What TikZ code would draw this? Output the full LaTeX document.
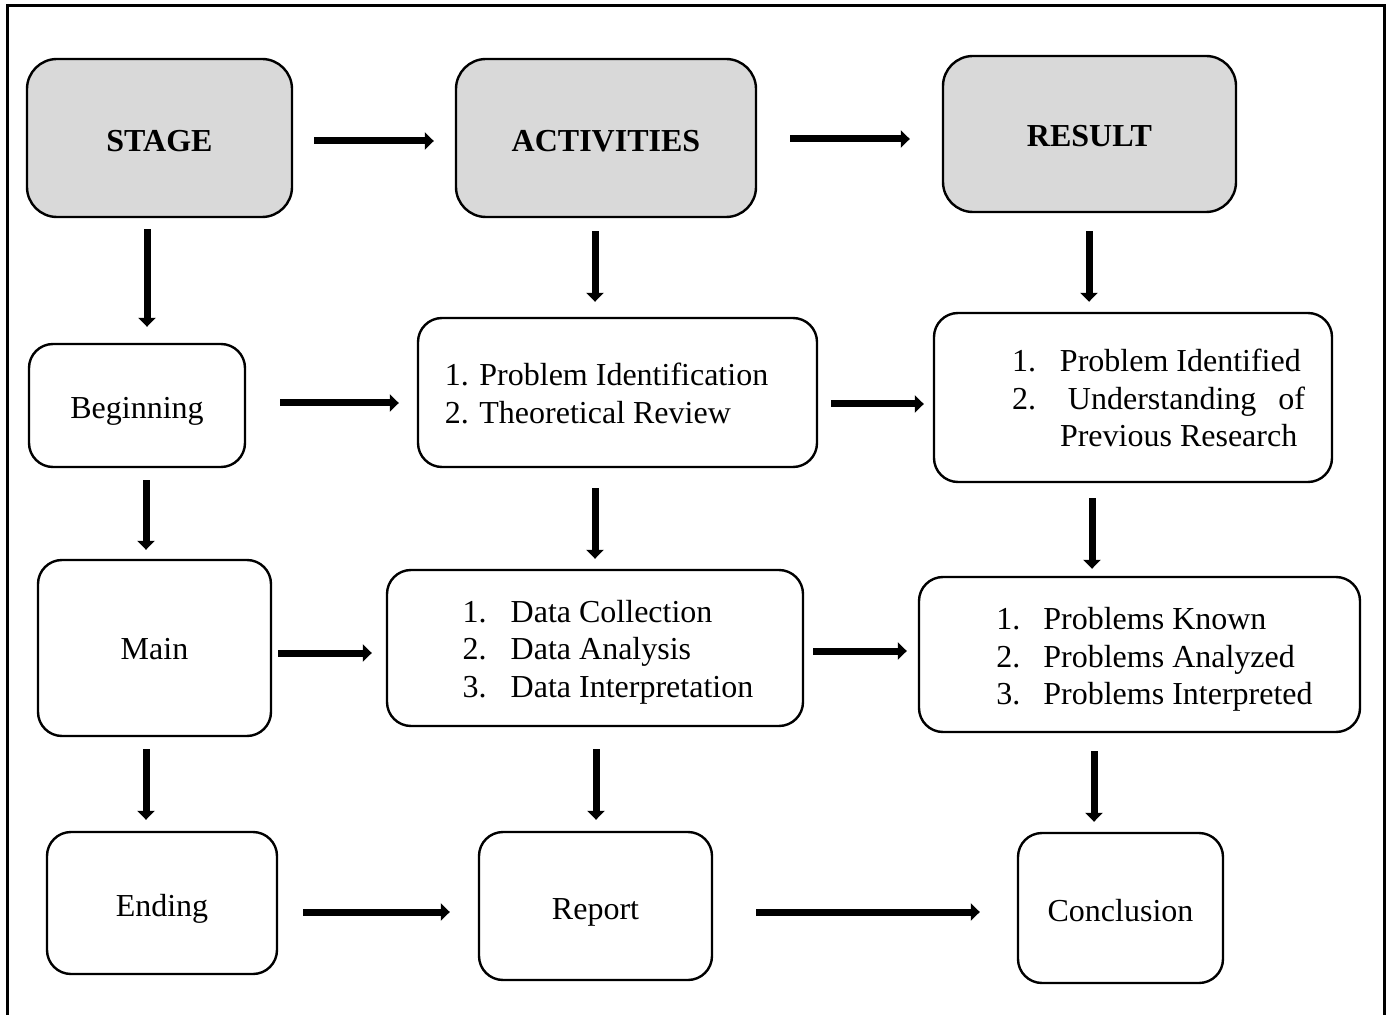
\documentclass[tikz,border=0pt]{standalone}
\usepackage{fontspec}
\setmainfont{Liberation Serif}
\usetikzlibrary{arrows.meta}
\definecolor{hdrgray}{HTML}{D9D9D9}
\newcommand\dnshift[2]{\raisebox{-#1}[\height][\depth]{#2}}
\begin{document}
\begin{tikzpicture}[x=0.5pt,y=-0.5pt,
  every node/.style={font=\fontsize{16pt}{18.7pt}\selectfont, inner sep=0pt},
  box/.style={draw, line width=1.2pt, rounded corners=12pt, fill=white},
  hdr/.style={draw, line width=1.2pt, rounded corners=15pt, fill=hdrgray, font=\fontsize{16pt}{18.7pt}\selectfont\bfseries},
  arr/.style={line width=3.5pt, -{Triangle[width=8.5pt,length=4.5pt]}}
]
\useasboundingbox (0,0) rectangle (1391,1015);
\fill[white] (0,0) rectangle (1391,1015);
% outer frame (open at bottom)
\draw[line width=1.5pt] (7,1016) -- (7,6) -- (1384,6) -- (1384,1016);

% header row
\node[hdr, minimum width=132.5pt, minimum height=79pt] (stage) at (159.5,138) {\dnshift{1.5pt}{STAGE}};
\node[hdr, minimum width=150pt, minimum height=79pt] (act) at (606,138) {\dnshift{1.5pt}{ACTIVITIES}};
\node[hdr, minimum width=146.5pt, minimum height=78pt] (res) at (1089.5,134) {\dnshift{1pt}{RESULT}};

% row 1
\node[box, minimum width=108pt, minimum height=61.5pt] (beg) at (137,405.5) {\dnshift{3pt}{Beginning}};
\node[box, minimum width=199.5pt, minimum height=74.5pt] (act1) at (617.5,392.5)
  {\dnshift{2.2pt}{\begin{tabular}{@{}l@{}}1. Problem Identification\\2. Theoretical Review\end{tabular}}\hspace*{11pt}};
\node[box, minimum width=199pt, minimum height=84.5pt] (res1) at (1133,397.5)
  {\hspace*{25.5pt}\dnshift{2.2pt}{\begin{tabular}{@{}p{24pt}@{}p{122.5pt}@{}}1. & Problem Identified\\2. & \hspace*{4pt}Understanding\hfill of\\ & Previous Research\end{tabular}}};

% row 2
\node[box, minimum width=116.5pt, minimum height=88pt] (main) at (154.5,648) {\dnshift{0.5pt}{Main}};
\node[box, minimum width=208pt, minimum height=78pt] (act2) at (595,648)
  {\hspace*{13pt}\dnshift{2.2pt}{\begin{tabular}{@{}p{24pt}@{}l@{}}1. & Data Collection\\2. & Data Analysis\\3. & Data Interpretation\end{tabular}}};
\node[box, minimum width=220.5pt, minimum height=77.5pt] (res2) at (1139.5,654.5)
  {\hspace*{15pt}\dnshift{2.7pt}{\begin{tabular}{@{}p{23.5pt}@{}l@{}}1. & Problems Known\\2. & Problems Analyzed\\3. & Problems Interpreted\end{tabular}}};

% row 3
\node[box, minimum width=115pt, minimum height=71pt] (end) at (162,903) {\dnshift{3pt}{Ending}};
\node[box, minimum width=116.5pt, minimum height=74pt] (rep) at (595.5,906) {\dnshift{3pt}{Report}};
\node[box, minimum width=102.5pt, minimum height=75pt] (con) at (1120.5,908) {\dnshift{1.5pt}{Conclusion}};

% arrow rows / columns
\coordinate (hA) at (0,141);
\coordinate (hB) at (0,139);
\coordinate (hC) at (0,403);
\coordinate (hD) at (0,404);
\coordinate (hE) at (0,653);
\coordinate (hF) at (0,651);
\coordinate (hG) at (0,912);
\coordinate (vA) at (147,0);
\coordinate (vB) at (595,0);
\coordinate (vC) at (1089,0);
\coordinate (vD) at (146,0);
\coordinate (vE) at (595,0);
\coordinate (vF) at (1092,0);
\coordinate (vG) at (146,0);
\coordinate (vH) at (596,0);
\coordinate (vI) at (1094,0);

% horizontal arrows
\draw[arr, shorten <=10.5pt, shorten >=10.5pt] (stage.east |- hA) -- (act.west |- hA);
\draw[arr, shorten <=16.5pt, shorten >=16pt] (act.east |- hB) -- (res.west |- hB);
\draw[arr, shorten <=17pt, shorten >=9pt] (beg.east |- hC) -- (act1.west |- hC);
\draw[arr, shorten <=6.5pt, shorten >=4.5pt] (act1.east |- hD) -- (res1.west |- hD);
\draw[arr, shorten <=3pt, shorten >=7pt] (main.east |- hE) -- (act2.west |- hE);
\draw[arr, shorten <=4.5pt, shorten >=5.5pt] (act2.east |- hF) -- (res2.west |- hF);
\draw[arr, shorten <=12.5pt, shorten >=14pt] (end.east |- hG) -- (rep.west |- hG);
\draw[arr, shorten <=21.5pt, shorten >=18.5pt] (rep.east |- hG) -- (con.west |- hG);

% vertical arrows
\draw[arr, shorten <=5.5pt, shorten >=8pt] (stage.south -| vA) -- (beg.north -| vA);
\draw[arr, shorten <=6.5pt, shorten >=7.5pt] (act.south -| vB) -- (act1.north -| vB);
\draw[arr, shorten <=9pt, shorten >=5pt] (res.south -| vC) -- (res1.north -| vC);
\draw[arr, shorten <=6pt, shorten >=4.5pt] (beg.south -| vD) -- (main.north -| vD);
\draw[arr, shorten <=10pt, shorten >=5pt] (act1.south -| vE) -- (act2.north -| vE);
\draw[arr, shorten <=7.5pt, shorten >=3.5pt] (res1.south -| vF) -- (res2.north -| vF);
\draw[arr, shorten <=6pt, shorten >=5.5pt] (main.south -| vG) -- (end.north -| vG);
\draw[arr, shorten <=11pt, shorten >=5.5pt] (act2.south -| vH) -- (rep.north -| vH);
\draw[arr, shorten <=9pt, shorten >=5pt] (res2.south -| vI) -- (con.north -| vI);
\end{tikzpicture}
\end{document}
